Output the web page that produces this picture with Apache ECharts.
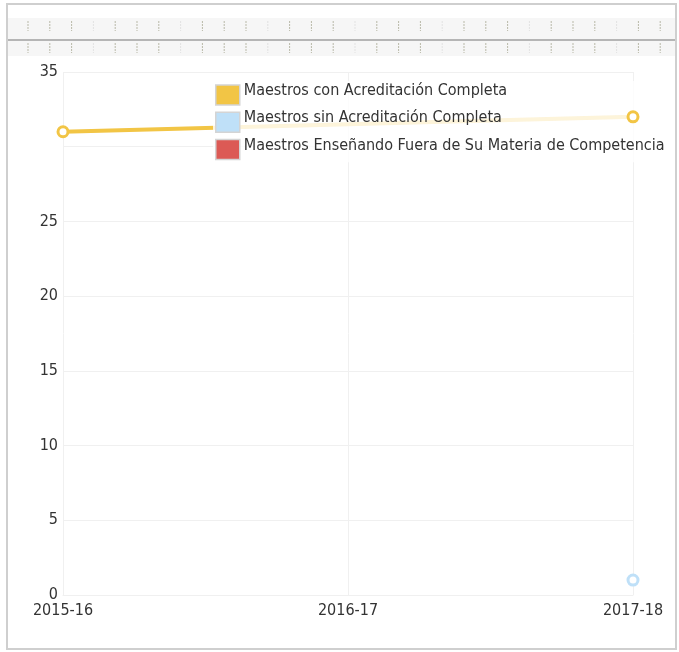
<!DOCTYPE html>
<html><head><meta charset="utf-8">
<script src="https://cdn.jsdelivr.net/npm/echarts@6/dist/echarts.min.js"></script>
<style>html,body{margin:0;padding:0;background:#fff}#c{width:679px;height:652px}</style>
</head><body><div id="c"></div>
<script>
const categories = ['2015-16', '2016-17', '2017-18'];
const seriesNames = ['Maestros con Acreditación Completa', 'Maestros sin Acreditación Completa', 'Maestros Enseñando Fuera de Su Materia de Competencia'];
const conAcreditacion = [31, null, 32];
const sinAcreditacion = [null, null, 1];
const fueraMateria = [null, null, null];
const yTickLabels = ['0', '5', '10', '15', '20', '25', '', '35'];
const colors = ['#f2c545', '#bfe0f8', '#dc5a55'];
const FONT = 'DejaVu Sans Condensed, DejaVu Sans';

const chart = echarts.init(document.getElementById('c'), null, {renderer: 'canvas'});
const strip = [];
for (let i = 0; i < 30; i++) {
  const x = 28 + i * 21.8;
  const c = (i % 4 === 3) ? '#e2e2e2' : '#b9b9a8';
  strip.push({type: 'line', shape: {x1: x, y1: 21, x2: x, y2: 31}, style: {stroke: c, lineWidth: 1, lineDash: [2, 1]}, silent: true});
  strip.push({type: 'line', shape: {x1: x, y1: 43, x2: x, y2: 53}, style: {stroke: c, lineWidth: 1, lineDash: [2, 1]}, silent: true});
}
chart.setOption({
  animation: false,
  textStyle: {fontFamily: FONT},
  graphic: [
    {type: 'rect', shape: {x: 7, y: 4, width: 669, height: 645}, style: {fill: 'none', stroke: '#cfcfcf', lineWidth: 2}, silent: true},
    {type: 'rect', shape: {x: 8, y: 18, width: 667, height: 38}, style: {fill: '#f6f6f6'}, silent: true},
    {type: 'line', shape: {x1: 8, y1: 40, x2: 675, y2: 40}, style: {stroke: '#b5b5b5', lineWidth: 2}, silent: true},
    ...strip
  ],
  grid: {left: 63, right: 46, top: 72, bottom: 57, containLabel: false},
  legend: {
    data: seriesNames,
    orient: 'vertical',
    left: 213, top: 81,
    padding: 2,
    itemGap: 4.5,
    itemWidth: 24, itemHeight: 20,
    icon: 'rect',
    backgroundColor: 'rgba(255,255,255,0.8)',
    itemStyle: {borderColor: '#d4d4d4', borderWidth: 1.5},
    formatter: n => '{t|' + n + '}',
    textStyle: {fontFamily: FONT, fontSize: 16, color: '#333',
      rich: {t: {fontFamily: FONT, fontSize: 16, color: '#333', padding: [0, 0, 8, -1]}}},
    z: 4
  },
  xAxis: {
    type: 'category', data: categories, boundaryGap: false,
    axisLine: {lineStyle: {color: '#f0f0f0'}},
    axisTick: {show: false},
    splitLine: {show: true, lineStyle: {color: '#f0f0f0'}},
    axisLabel: {fontFamily: FONT, fontSize: 16, color: '#333', margin: 8, showMinLabel: true, showMaxLabel: true}
  },
  yAxis: {
    type: 'value', min: 0, max: 35, interval: 5,
    axisLine: {show: false}, axisTick: {show: false},
    splitLine: {lineStyle: {color: '#f0f0f0'}},
    axisLabel: {fontFamily: FONT, fontSize: 16, color: '#333', margin: 5,
      formatter: v => yTickLabels[Math.round(v / 5)]}
  },
  series: [
    {name: seriesNames[0], type: 'line', data: conAcreditacion, connectNulls: true, showSymbol: false,
      color: colors[0], lineStyle: {width: 4, color: colors[0]}, z: 2},
    {name: seriesNames[1], type: 'line', data: sinAcreditacion, connectNulls: true, showSymbol: false,
      color: colors[1], lineStyle: {width: 4, color: colors[1]}, z: 2},
    {name: seriesNames[2], type: 'line', data: fueraMateria, connectNulls: true, showSymbol: false,
      color: colors[2], lineStyle: {width: 4, color: colors[2]}, z: 2},
    {name: 'marks0', type: 'line', data: conAcreditacion, symbol: 'circle', symbolSize: 10, showSymbol: true,
      lineStyle: {opacity: 0}, itemStyle: {color: '#fff', borderColor: colors[0], borderWidth: 3}, z: 6},
    {name: 'marks1', type: 'line', data: sinAcreditacion, symbol: 'circle', symbolSize: 10, showSymbol: true,
      lineStyle: {opacity: 0}, itemStyle: {color: '#fff', borderColor: colors[1], borderWidth: 3}, z: 6}
  ]
});
</script></body></html>
